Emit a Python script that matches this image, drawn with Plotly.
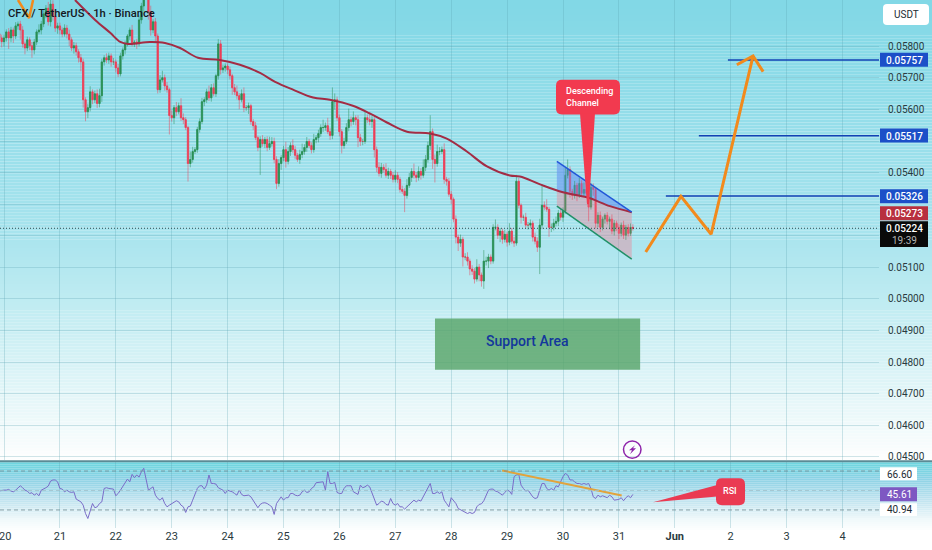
import numpy as np
import plotly.graph_objects as go

# Prices are kept in units of 0.00001, hourly closes starting 2 hours before the 20th
closes_pre = [5827, 5815]
closes_20 = [5827, 5846, 5827, 5852, 5833, 5865, 5871, 5852, 5808, 5795, 5821, 5802, 5789, 5814, 5846, 5852, 5871, 5903, 5921, 5878, 5934, 5896, 5858, 5865]
closes_21 = [5852, 5839, 5858, 5839, 5821, 5795, 5802, 5783, 5764, 5751, 5631, 5593, 5606, 5656, 5631, 5650, 5619, 5644, 5751, 5764, 5757, 5770, 5751, 5751]
closes_22 = [5732, 5713, 5770, 5789, 5808, 5833, 5852, 5808, 5814, 5808, 5884, 5928, 5962, 5972, 5909, 5852, 5878, 5833, 5663, 5694, 5701, 5675, 5663, 5581]
closes_23 = [5574, 5606, 5593, 5612, 5574, 5568, 5543, 5429, 5442, 5467, 5473, 5537, 5562, 5625, 5631, 5656, 5637, 5669, 5650, 5707, 5808, 5726, 5732, 5738]
closes_24 = [5726, 5707, 5669, 5656, 5644, 5631, 5650, 5606, 5606, 5612, 5562, 5549, 5511, 5480, 5505, 5492, 5505, 5480, 5492, 5499, 5442, 5366, 5429, 5448]
closes_25 = [5473, 5436, 5467, 5486, 5473, 5455, 5442, 5458, 5467, 5480, 5499, 5486, 5473, 5505, 5511, 5524, 5543, 5543, 5549, 5530, 5518, 5625, 5631, 5574]
closes_26 = [5530, 5486, 5499, 5543, 5568, 5562, 5574, 5568, 5511, 5499, 5499, 5574, 5568, 5562, 5568, 5473, 5417, 5398, 5417, 5410, 5392, 5404, 5392, 5379]
closes_27 = [5392, 5379, 5347, 5341, 5328, 5360, 5385, 5404, 5392, 5385, 5404, 5392, 5417, 5442, 5486, 5530, 5442, 5429, 5467, 5467, 5473, 5379, 5373, 5332]
closes_28 = [5316, 5253, 5196, 5177, 5189, 5133, 5133, 5120, 5095, 5088, 5063, 5101, 5076, 5057, 5120, 5120, 5133, 5120, 5227, 5227, 5202, 5215, 5189, 5205]
closes_29 = [5180, 5215, 5183, 5177, 5373, 5297, 5259, 5259, 5234, 5234, 5240, 5196, 5183, 5164, 5234, 5297, 5291, 5284, 5227, 5227, 5240, 5246, 5272, 5259]
closes_30 = [5278, 5392, 5410, 5341, 5328, 5360, 5328, 5366, 5335, 5347, 5335, 5291, 5354, 5347, 5240, 5265, 5227, 5253, 5265, 5246, 5253, 5215, 5240, 5227]
closes_31 = [5208, 5234, 5202, 5227, 5208, 5227, 5224]
first_open = 5840

upper_pre = [12, 10]
upper_20 = [10, 8, 12, 10, 8, 12, 8, 10, 12, 8, 10, 8, 12, 10, 8, 18, 10, 12, 10, 20, 15, 12, 20, 10]
upper_21 = [10, 8, 12, 10, 14, 8, 12, 10, 8, 12, 10, 8, 12, 18, 8, 10, 14, 22, 10, 8, 14, 10, 8, 12]
upper_22 = [8, 12, 10, 8, 10, 6, 8, 16, 6, 10, 14, 10, 15, 20, 16, 20, 8, 12, 8, 15, 22, 10, 12, 6]
upper_23 = [16, 8, 18, 10, 24, 14, 8, 6, 25, 15, 8, 8, 10, 12, 8, 10, 20, 12, 14, 6, 15, 12, 10, 8]
upper_24 = [8, 10, 6, 12, 20, 8, 14, 20, 8, 10, 6, 8, 12, 6, 10, 14, 8, 10, 22, 14, 12, 10, 14, 8]
upper_25 = [12, 25, 14, 10, 20, 12, 8, 15, 25, 10, 14, 8, 10, 18, 8, 12, 10, 25, 10, 25, 12, 45, 20, 10]
upper_26 = [10, 8, 12, 14, 35, 10, 20, 8, 14, 12, 8, 20, 10, 25, 12, 8, 10, 16, 14, 10, 20, 12, 8, 10]
upper_27 = [16, 10, 8, 12, 10, 20, 14, 10, 25, 10, 16, 10, 25, 14, 12, 52, 10, 15, 22, 14, 10, 20, 8, 10]
upper_28 = [10, 6, 12, 8, 15, 8, 12, 15, 8, 12, 10, 25, 10, 8, 35, 14, 10, 8, 10, 25, 10, 10, 8, 14]
upper_29 = [8, 25, 10, 14, 20, 10, 6, 8, 14, 10, 12, 8, 14, 12, 20, 65, 12, 25, 8, 12, 14, 15, 10, 16]
upper_30 = [12, 25, 32, 10, 8, 14, 8, 18, 10, 22, 10, 8, 14, 12, 8, 10, 12, 8, 6, 10, 8, 15, 10, 8]
upper_31 = [10, 8, 14, 8, 10, 12, 10]

lower_pre = [15, 18]
lower_20 = [15, 12, 35, 14, 22, 10, 12, 30, 12, 20, 10, 14, 25, 14, 10, 8, 14, 10, 14, 12, 15, 14, 12, 18]
lower_21 = [14, 10, 8, 14, 20, 10, 18, 12, 15, 30, 25, 30, 20, 12, 14, 10, 14, 12, 20, 12, 10, 12, 15, 10]
lower_22 = [14, 10, 8, 12, 14, 8, 12, 8, 10, 16, 8, 12, 18, 14, 24, 18, 10, 20, 12, 10, 8, 15, 10, 60]
lower_23 = [12, 20, 14, 8, 10, 14, 8, 57, 12, 10, 8, 10, 10, 8, 14, 10, 10, 12, 8, 10, 12, 15, 10, 12]
lower_24 = [14, 12, 22, 10, 12, 30, 8, 14, 10, 20, 10, 14, 8, 12, 87, 10, 14, 12, 8, 10, 12, 18, 10, 20]
lower_25 = [12, 20, 10, 14, 10, 12, 8, 14, 12, 10, 14, 8, 12, 10, 12, 15, 10, 14, 10, 8, 14, 12, 25, 10]
lower_26 = [15, 25, 10, 8, 12, 15, 10, 18, 30, 14, 12, 8, 10, 12, 20, 25, 15, 10, 14, 10, 8, 12, 12, 10]
lower_27 = [10, 12, 10, 8, 53, 10, 8, 14, 10, 15, 10, 14, 8, 12, 10, 14, 30, 60, 10, 12, 8, 14, 14, 8]
lower_28 = [15, 10, 20, 25, 12, 30, 10, 14, 20, 12, 14, 8, 20, 18, 25, 14, 22, 10, 8, 10, 12, 22, 14, 10]
lower_29 = [14, 10, 8, 12, 8, 10, 20, 12, 10, 14, 10, 14, 10, 15, 85, 12, 10, 8, 30, 15, 10, 10, 15, 10]
lower_30 = [15, 8, 10, 20, 14, 10, 18, 8, 12, 10, 14, 45, 8, 20, 16, 12, 15, 10, 14, 10, 25, 10, 14, 12]
lower_31 = [18, 10, 12, 15, 10, 8, 8]

rsi_pre = [53.5, 54.0]
rsi_20 = [54.0, 54.0, 54.5, 53.4, 52.9, 54.0, 55.6, 56.9, 55.6, 54.0, 53.4, 51.8, 52.3, 50.7, 51.8, 50.3, 54.0, 54.7, 55.6, 56.7, 60.0, 60.7, 60.7, 59.5]
rsi_21 = [55.1, 54.7, 52.9, 54.0, 52.9, 52.5, 52.9, 48.1, 47.4, 46.3, 44.1, 38.6, 35.3, 40.8, 45.2, 42.4, 43.0, 45.2, 46.3, 55.1, 55.6, 55.1, 54.7, 54.7]
rsi_22 = [50.3, 51.8, 54.0, 56.2, 58.4, 61.3, 59.5, 64.4, 62.2, 64.0, 62.6, 66.2, 68.4, 60.7, 54.0, 55.1, 56.2, 50.7, 48.5, 47.4, 49.0, 45.2, 43.0, 44.1]
rsi_23 = [45.2, 46.3, 47.0, 46.3, 44.1, 43.0, 39.3, 43.0, 43.5, 47.4, 51.8, 55.1, 56.9, 56.9, 54.7, 57.3, 64.0, 58.4, 58.4, 58.0, 55.6, 54.7, 54.0, 51.8]
rsi_24 = [54.0, 53.4, 52.9, 51.8, 50.7, 54.0, 51.2, 50.3, 50.3, 50.7, 49.6, 47.4, 45.2, 42.4, 44.6, 45.5, 45.7, 45.2, 44.1, 43.0, 38.0, 45.2, 47.4, 49.6]
rsi_25 = [47.4, 49.0, 49.0, 51.8, 51.8, 50.7, 50.3, 50.7, 52.9, 54.0, 52.5, 52.9, 55.1, 56.2, 58.9, 59.1, 59.1, 59.5, 54.0, 66.2, 58.4, 58.4, 59.1, 52.5]
rsi_26 = [51.8, 51.8, 55.1, 56.9, 56.9, 56.9, 52.9, 51.8, 51.2, 57.3, 55.6, 56.2, 57.3, 56.2, 51.8, 48.5, 44.1, 45.2, 46.8, 46.3, 44.6, 44.1, 48.5, 45.2]
rsi_27 = [44.1, 45.2, 43.0, 43.0, 41.5, 43.0, 44.6, 46.3, 47.4, 46.3, 47.4, 46.8, 49.6, 51.8, 55.1, 58.4, 51.8, 51.8, 52.9, 51.8, 52.9, 47.4, 45.2, 43.0]
rsi_28 = [49.0, 47.4, 45.2, 41.9, 41.0, 40.2, 39.7, 38.6, 39.3, 38.6, 39.3, 43.0, 44.6, 45.0, 47.0, 50.7, 54.0, 54.7, 54.7, 53.4, 52.9, 51.8, 50.7, 52.5]
rsi_29 = [54.0, 53.4, 51.2, 62.9, 64.0, 64.4, 57.3, 55.1, 53.4, 54.0, 51.8, 49.6, 48.5, 49.0, 54.0, 58.4, 58.4, 55.1, 54.0, 55.1, 54.0, 56.9, 56.2, 59.5]
rsi_30 = [62.9, 65.0, 64.0, 60.7, 60.7, 59.5, 58.4, 58.4, 57.8, 58.4, 57.8, 58.4, 55.1, 49.6, 48.5, 50.7, 49.6, 50.3, 49.6, 49.0, 50.7, 49.6, 47.4, 47.9]
rsi_31 = [47.9, 49.0, 47.0, 49.0, 50.3, 49.0, 51.2]

# Moving average (days after the 20th, price)
ma_day = [1.27, 1.63, 1.90, 2.08, 2.22, 2.61, 2.88, 3.15, 3.47, 3.86, 4.22, 4.58, 4.85, 5.17, 5.53, 5.83, 6.24, 6.55, 6.85, 7.21, 7.62, 7.92, 8.28, 8.64, 9.05, 9.23, 9.59, 10.0, 10.43, 10.84, 11.23]
ma_price = [5947, 5884, 5843, 5814, 5808, 5814, 5811, 5795, 5764, 5757, 5742, 5716, 5688, 5663, 5638, 5631, 5612, 5587, 5559, 5530, 5524, 5508, 5467, 5420, 5391, 5388, 5363, 5338, 5322, 5294, 5275]

# Channel drawing
channel_day = [9.89, 11.23]
channel_upper = [5436, 5275]
channel_lower = [5294, 5126]
channel_ma_day = [9.89, 10.0, 10.43, 10.84, 11.23]
channel_ma_price = [5345, 5338, 5322, 5294, 5275]

# Projection drawn in orange
path_day = [11.48, 12.11, 12.65, 13.40]
path_price = [5149, 5325, 5205, 5770]
head_day = [13.11, 13.40, 13.58]
head_price = [5742, 5770, 5720]
swoosh_day = [0.25, 0.36, 0.45, 0.52]
swoosh_price = [5947, 5915, 5890, 5947]

# Target lines
target_prices = [5326, 5517, 5757]
target_start = [11.84, 12.43, 12.95]
support_day = [7.71, 11.38]
support_price = [4776, 4938]
last_price = 5224

# RSI trend line
rsi_trend_day = [8.91, 11.05]
rsi_trend_value = [67.0, 50.5]

tick_days = list(range(16))
tick_labels = ["20", "21", "22", "23", "24", "25", "26", "27", "28", "29", "30", "31", "<b>Jun</b>", "2", "3", "4"]
price_ticks = [5800, 5700, 5600, 5500, 5400, 5300, 5200, 5100, 5000, 4900, 4800, 4700, 4600, 4500]
price_labels = ["0.05800", "0.05700", "0.05600", "", "0.05400", "", "", "0.05100", "0.05000", "0.04900", "0.04800", "0.04700", "0.04600", "0.04500"]

W, H = 932, 550
PLOT_RIGHT = 879


def pscale(values):
    return np.array(values) / 100000


def X(px):
    return px / W


def Y(px):
    return 1 - px / H


def rounded(x0, y0, x1, y1, r):
    # Rounded box as an svg path in paper coordinates
    return (f"M {X(x0 + r)} {Y(y0)} L {X(x1 - r)} {Y(y0)} Q {X(x1)} {Y(y0)} {X(x1)} {Y(y0 + r)} "
            f"L {X(x1)} {Y(y1 - r)} Q {X(x1)} {Y(y1)} {X(x1 - r)} {Y(y1)} "
            f"L {X(x0 + r)} {Y(y1)} Q {X(x0)} {Y(y1)} {X(x0)} {Y(y1 - r)} "
            f"L {X(x0)} {Y(y0 + r)} Q {X(x0)} {Y(y0)} {X(x0 + r)} {Y(y0)} Z")


def poly(points):
    return "M " + " L ".join(f"{X(a)} {Y(b)}" for a, b in points) + " Z"


closes = np.array(closes_pre + closes_20 + closes_21 + closes_22 + closes_23 + closes_24 + closes_25 + closes_26 + closes_27 + closes_28 + closes_29 + closes_30 + closes_31, dtype=float)
upper = np.array(upper_pre + upper_20 + upper_21 + upper_22 + upper_23 + upper_24 + upper_25 + upper_26 + upper_27 + upper_28 + upper_29 + upper_30 + upper_31, dtype=float)
lower = np.array(lower_pre + lower_20 + lower_21 + lower_22 + lower_23 + lower_24 + lower_25 + lower_26 + lower_27 + lower_28 + lower_29 + lower_30 + lower_31, dtype=float)
rsi = rsi_pre + rsi_20 + rsi_21 + rsi_22 + rsi_23 + rsi_24 + rsi_25 + rsi_26 + rsi_27 + rsi_28 + rsi_29 + rsi_30 + rsi_31

opens = np.concatenate([[first_open], closes[:-1]])
body_top = np.maximum(opens, closes)
body_bottom = np.minimum(opens, closes)
highs = body_top + upper
lows = body_bottom - lower
days = (np.arange(len(closes)) - 2) / 24

x_range = [-4 / 55.9, (PLOT_RIGHT - 4) / 55.9]

fig = go.Figure()

# Channel fill first so the candles sit on top
fig.add_trace(go.Scatter(x=channel_day + channel_ma_day[::-1], y=pscale(channel_upper + channel_ma_price[::-1]),
                         fill="toself", fillcolor="rgba(105,150,240,0.62)", mode="none", hoverinfo="skip"))
fig.add_trace(go.Scatter(x=channel_ma_day + channel_day[::-1], y=pscale(channel_ma_price + channel_lower[::-1]),
                         fill="toself", fillcolor="rgba(235,130,150,0.42)", mode="none", hoverinfo="skip"))

# Wicks are paler than the bodies, so they get their own traces
for is_up, colour in [(True, "rgba(42,143,85,0.5)"), (False, "rgba(238,63,88,0.5)")]:
    wick_x, wick_y = [], []
    for d, o, c, hi, lo in zip(days, opens, closes, highs, lows):
        if (c >= o) == is_up:
            wick_x += [d, d, None]
            wick_y += [hi / 100000, lo / 100000, None]
    fig.add_trace(go.Scatter(x=wick_x, y=wick_y, mode="lines", line=dict(color=colour, width=1), hoverinfo="skip"))

fig.add_trace(go.Candlestick(x=days, open=pscale(opens), high=pscale(body_top), low=pscale(body_bottom), close=pscale(closes),
                             increasing=dict(line=dict(color="#2a8f55", width=0.8), fillcolor="#2a8f55"),
                             decreasing=dict(line=dict(color="#ee3f58", width=0.8), fillcolor="#ee3f58"),
                             whiskerwidth=0, hoverinfo="skip"))

fig.add_trace(go.Scatter(x=ma_day, y=pscale(ma_price), mode="lines", line=dict(color="#a32c44", width=2, shape="spline"), hoverinfo="skip"))
fig.add_trace(go.Scatter(x=channel_day, y=pscale(channel_upper), mode="lines", line=dict(color="#2257d8", width=1.5), hoverinfo="skip"))
fig.add_trace(go.Scatter(x=channel_day, y=pscale(channel_lower), mode="lines", line=dict(color="#1f9068", width=1.5), hoverinfo="skip"))

fig.add_trace(go.Scatter(x=x_range, y=pscale([last_price, last_price]), mode="lines", line=dict(color="#2c4a50", width=1, dash="1px,2px"), hoverinfo="skip"))

for price, start in zip(target_prices, target_start):
    fig.add_trace(go.Scatter(x=[start, x_range[1]], y=pscale([price, price]), mode="lines", line=dict(color="#1242b4", width=1.5), hoverinfo="skip"))

fig.add_trace(go.Scatter(x=path_day, y=pscale(path_price), mode="lines", line=dict(color="#f28a1c", width=3), hoverinfo="skip"))
fig.add_trace(go.Scatter(x=head_day, y=pscale(head_price), mode="lines", line=dict(color="#f28a1c", width=3), hoverinfo="skip"))
fig.add_trace(go.Scatter(x=swoosh_day, y=pscale(swoosh_price), mode="lines", line=dict(color="#f28a1c", width=2.5), hoverinfo="skip"))

# RSI pane
fig.add_trace(go.Scatter(x=days, y=rsi, mode="lines", line=dict(color="#7a6cc8", width=1), xaxis="x2", yaxis="y2", hoverinfo="skip"))
fig.add_trace(go.Scatter(x=rsi_trend_day, y=rsi_trend_value, mode="lines", line=dict(color="#e2a33c", width=2), xaxis="x2", yaxis="y2", hoverinfo="skip"))
for level, colour in [(66.6, "#6f8a92"), (53.77, "#9fc0ca"), (40.94, "#6f8a92")]:
    fig.add_trace(go.Scatter(x=x_range, y=[level, level], mode="lines", line=dict(color=colour, width=0.8, dash="4px,3px"), xaxis="x2", yaxis="y2", hoverinfo="skip"))

# Background gradients, one thin band per step
shapes = []
main_stops = [0, 230, 300, 400, 462]
main_r = [130, 168, 191, 230, 255]
main_g = [216, 228, 236, 247, 255]
main_b = [230, 238, 242, 249, 255]
for top in range(0, 462, 3):
    col = [int(np.interp(top, main_stops, c)) for c in (main_r, main_g, main_b)]
    shapes.append(dict(type="rect", xref="paper", yref="paper", layer="below", x0=0, x1=1, y0=Y(top + 3), y1=Y(top),
                       fillcolor=f"rgb({col[0]},{col[1]},{col[2]})", line_width=0))
rsi_stops = [464, 480, 500, 520, 532]
rsi_r = [110, 143, 191, 240, 255]
rsi_g = [214, 211, 227, 249, 255]
rsi_b = [224, 230, 239, 251, 255]
for top in range(464, 532, 2):
    col = [int(np.interp(top, rsi_stops, c)) for c in (rsi_r, rsi_g, rsi_b)]
    shapes.append(dict(type="rect", xref="paper", yref="paper", layer="below", x0=0, x1=1, y0=Y(top + 2), y1=Y(top),
                       fillcolor=f"rgb({col[0]},{col[1]},{col[2]})", line_width=0))


def box(x0, y0, x1, y1, colour, r=0):
    shapes.append(dict(type="path", xref="paper", yref="paper", layer="above", path=rounded(x0, y0, x1, y1, r) if r else poly([(x0, y0), (x1, y0), (x1, y1), (x0, y1)]),
                       fillcolor=colour, line_width=0))


shapes.append(dict(type="line", xref="paper", yref="paper", layer="above", x0=0, x1=1, y0=Y(463), y1=Y(463), line=dict(color="#5b8b96", width=2)))

# Support area rectangle
shapes.append(dict(type="rect", xref="x", yref="y", layer="above", x0=support_day[0], x1=support_day[1],
                   y0=support_price[0] / 100000, y1=support_price[1] / 100000, fillcolor="rgba(88,165,105,0.82)", line_width=0))

# Callouts
box(556, 80, 620, 115, "#f23a4f", 6)
shapes.append(dict(type="path", xref="paper", yref="paper", layer="above", path=poly([(580, 114), (595, 114), (589, 205), (587, 205)]), fillcolor="#f23a4f", line_width=0))
box(716, 480, 745, 507, "#ea3a52", 6)
shapes.append(dict(type="path", xref="paper", yref="paper", layer="above", path=poly([(653, 504), (720, 486), (720, 498)]), fillcolor="#ea3a52", line_width=0))

# Price tags on the scale
box(883, 4, 929, 25, "#ffffff", 4)
box(880, 53, 928, 67, "#1c4fc8")
box(880, 129, 928, 143, "#1c4fc8")
box(880, 190, 928, 204, "#1c4fc8")
box(880, 207, 928, 221, "#b8303f")
box(880, 222, 928, 248, "#0a0a0a")
box(880, 469, 917, 482, "#ffffff")
box(880, 489, 917, 503, "#7e57c2")
box(880, 505, 917, 518, "#ffffff")

# Lightning badge
shapes.append(dict(type="circle", xref="paper", yref="paper", layer="above", x0=X(623.5), x1=X(641), y0=Y(460), y1=Y(442.5), line=dict(color="#8e24aa", width=1.5), fillcolor="rgba(255,255,255,0)"))
shapes.append(dict(type="path", xref="paper", yref="paper", layer="above", path=poly([(635, 447), (629, 452), (632, 452), (630, 456), (636, 450), (633, 450)]), fillcolor="#8e24aa", line_width=0))

annotations = []


def label(px, py, text, colour, size, weight=400, anchor="left"):
    annotations.append(dict(x=X(px), y=Y(py), xref="paper", yref="paper", text=text, showarrow=False, xanchor=anchor, yanchor="middle", align="left",
                            font=dict(family="Roboto", size=size, color=colour, weight=weight)))


label(6, 14, "CFX / TetherUS · 1h · Binance", "#131722", 11.2, 500)
label(564, 97, "Descending<br>Channel", "#ffffff", 9, 500)
label(730, 493, "RSI", "#ffffff", 9, 500, "center")
label(527, 342, "Support Area", "#13379c", 14, 500, "center")
label(906, 14.5, "USDT", "#222b33", 10, 400, "center")
label(904, 60.5, "0.05757", "#ffffff", 10, 500, "center")
label(904, 136.5, "0.05517", "#ffffff", 10, 500, "center")
label(904, 197.5, "0.05326", "#ffffff", 10, 500, "center")
label(904, 214.5, "0.05273", "#ffffff", 10, 500, "center")
label(904, 229, "0.05224", "#ffffff", 10, 500, "center")
label(904, 241, "19:39", "#b5b5b5", 10, 400, "center")
label(899, 476, "66.60", "#222b33", 10, 400, "center")
label(899, 496, "45.61", "#ffffff", 10, 400, "center")
label(899, 511, "40.94", "#222b33", 10, 400, "center")
label(4.5, 538.5, tick_labels[0], "#2a3a40", 11, 400, "center")

grid = "rgba(90,160,175,0.28)"
fig.update_layout(
    width=W, height=H, margin=dict(l=0, r=0, t=0, b=0), showlegend=False, boxgap=0.15,
    paper_bgcolor="rgba(255,255,255,0)", plot_bgcolor="rgba(255,255,255,0)",
    shapes=shapes, annotations=annotations,
    xaxis=dict(domain=[0, PLOT_RIGHT / W], range=x_range, tickvals=tick_days, ticktext=tick_labels, showticklabels=False,
               showgrid=True, gridcolor=grid, zeroline=False, rangeslider=dict(visible=False), anchor="y"),
    yaxis=dict(domain=[Y(462), 1], range=[0.04489, 0.05947], side="right", tickvals=pscale(price_ticks), ticktext=price_labels,
               ticks="outside", ticklen=6, tickcolor="rgba(0,0,0,0)", showgrid=True, gridcolor=grid, zeroline=False,
               tickfont=dict(family="Roboto", size=10, color="#2a3a40"), anchor="x"),
    xaxis2=dict(domain=[0, PLOT_RIGHT / W], range=x_range, tickvals=tick_days[1:], ticktext=tick_labels[1:], showgrid=True, gridcolor=grid,
                zeroline=False, ticks="", anchor="y2",
                tickfont=dict(family="Roboto", size=11, color="#2a3a40")),
    yaxis2=dict(domain=[Y(530), Y(464)], range=[29.0, 72.35], showticklabels=False, showgrid=False, zeroline=False, anchor="x2", side="right"),
)

fig.write_html("out.html", config={"displayModeBar": False}, post_script="document.body.style.margin='0';")
